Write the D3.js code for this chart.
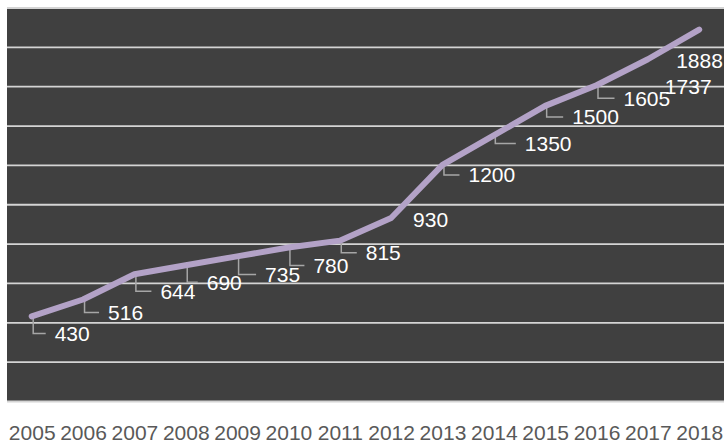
<!DOCTYPE html>
<html>
<head>
<meta charset="utf-8">
<script src="https://cdn.jsdelivr.net/npm/d3@7"></script>
<style>
  body { margin: 0; background: #fff; }
  svg { display: block; font-family: "Liberation Sans", Arial, sans-serif; }
</style>
</head>
<body>
<svg id="chart"></svg>
<script>
// data
const years = ['2005', '2006', '2007', '2008', '2009', '2010', '2011', '2012', '2013', '2014', '2015', '2016', '2017', '2018'];
const values = [430, 516, 644, 690, 735, 780, 815, 930, 1200, 1350, 1500, 1605, 1737, 1888];
const gridTicks = [0, 200, 400, 600, 800, 1000, 1200, 1400, 1600, 1800, 2000];

// label placement (offset from point, px) and whether a leader line is drawn
const labelDx = [23, 25, 26, 21, 28, 25, 26, 22, 26, 31, 27, 27, 17, -23];
const labelDy = [17, 13, 17, 17, 18, 18, 12, 1, 10, 8, 11, 13, 27, 31];
const hasLeader = [1, 1, 1, 1, 1, 1, 1, 0, 1, 1, 1, 1, 0, 0];

const width = 724, height = 443;
const plot = { left: 7, right: 724, top: 7.5, bottom: 401 };

const svg = d3.select('#chart')
    .attr('width', width)
    .attr('height', height);

svg.append('rect')
    .attr('x', plot.left)
    .attr('y', plot.top)
    .attr('width', plot.right - plot.left)
    .attr('height', plot.bottom - plot.top)
    .attr('fill', '#404040');

const xscale = d3.scalePoint()
    .domain(years)
    .range([31.7, 699.2]);

const yscale = d3.scaleLinear()
    .domain([0, 2000])
    .range([plot.bottom, plot.top]);

// gridlines
const grid = svg.append('g')
    .attr('transform', `translate(${plot.left}, 0)`)
    .call(d3.axisLeft(yscale)
        .tickValues(gridTicks)
        .tickSize(-(plot.right - plot.left))
        .tickFormat(''));
grid.select('.domain').remove();
grid.selectAll('.tick line')
    .attr('stroke', '#d4d4d4')
    .attr('stroke-width', 1.8);

// x axis labels
const xaxis = svg.append('g')
    .attr('transform', `translate(0, ${plot.bottom})`)
    .call(d3.axisBottom(xscale).tickSize(0).tickPadding(0));
xaxis.select('.domain').remove();
xaxis.selectAll('text')
    .attr('y', 39)
    .attr('dy', 0)
    .attr('fill', '#595959')
    .style('font-size', '21px')
    .style('font-family', '"Liberation Sans", Arial, sans-serif');

const data = years.map((y, i) => ({ year: y, value: values[i], dx: labelDx[i], dy: labelDy[i], leader: hasLeader[i] }));

// leader lines
svg.append('g')
    .selectAll('path')
    .data(data.filter(d => d.leader))
    .join('path')
    .attr('d', d => {
        const px = xscale(d.year) + 1.5, py = yscale(d.value);
        return `M${px},${py} V${py + d.dy} H${px + d.dx - 10.5}`;
    })
    .attr('fill', 'none')
    .attr('stroke', '#a6a6a6')
    .attr('stroke-width', 1.5);

// the line
const line = d3.line()
    .x(d => xscale(d.year))
    .y(d => yscale(d.value));

svg.append('path')
    .attr('d', line(data))
    .attr('fill', 'none')
    .attr('stroke', '#b3a2c7')
    .attr('stroke-width', 6)
    .attr('stroke-linecap', 'round')
    .attr('stroke-linejoin', 'round');

// data labels
svg.append('g')
    .selectAll('text')
    .data(data)
    .join('text')
    .attr('x', d => xscale(d.year) + d.dx)
    .attr('y', d => yscale(d.value) + d.dy + 7.5)
    .attr('fill', '#ffffff')
    .style('font-size', '21px')
    .text(d => d.value);
</script>
</body>
</html>
